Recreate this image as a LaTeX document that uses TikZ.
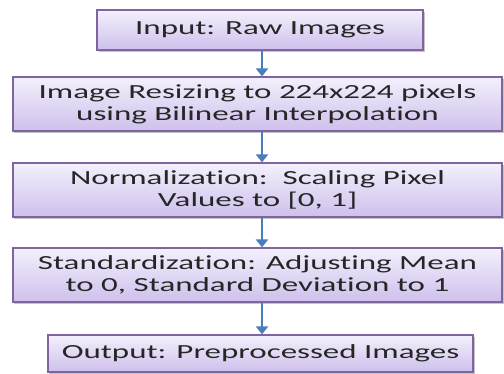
\documentclass[tikz,border=0pt]{standalone}
\usepackage{fontspec}
\setmainfont{Carlito}[FakeStretch=1.65, Ligatures=NoCommon]
\definecolor{boxline}{RGB}{128,100,160}
\definecolor{boxtop}{RGB}{244,240,252}
\definecolor{boxbot}{RGB}{206,192,236}
\definecolor{flow}{RGB}{74,126,187}
\usetikzlibrary{arrows.meta,shadows}

\begin{document}
\begin{tikzpicture}[
    x=1bp, y=-1bp,
    stepbox/.style={draw=boxline, line width=1.2bp, top color=boxtop, bottom color=boxbot,
        drop shadow={shadow xshift=1.5bp, shadow yshift=-2bp, fill=black!45, opacity=0.5},
        align=center, inner sep=0pt, font=\fontsize{20bp}{21.7bp}\selectfont, text=black!85},
    flowarrow/.style={draw=flow, line width=2.4bp, -{Triangle[length=8bp,width=12bp]}},
]
\useasboundingbox (0,0) rectangle (504,373);
\node[stepbox, minimum width=326bp, minimum height=40bp] (input) at (260,30) {Input: Raw Images};
\node[stepbox, minimum width=489bp, minimum height=54bp] (resize) at (257.5,104)
    {Image Resizing to 224x224 pixels\\using Bilinear Interpolation};
\node[stepbox, minimum width=489bp, minimum height=54bp] (norm) at (257.5,190)
    {Normalization:\ \ Scaling Pixel\\Values to [0, 1]};
\node[stepbox, minimum width=489bp, minimum height=54bp] (stand) at (257.5,275)
    {Standardization: Adjusting Mean\\to 0, Standard Deviation to 1};
\node[stepbox, minimum width=425bp, minimum height=37bp] (output) at (260.5,353.5)
    {Output: Preprocessed Images};
\draw[flowarrow] (input.south -| 262,0)  -- (resize.north -| 262,0);
\draw[flowarrow] (resize.south -| 262,0) -- (norm.north -| 262,0);
\draw[flowarrow] (norm.south -| 262,0)   -- (stand.north -| 262,0);
\draw[flowarrow] (stand.south -| 262,0)  -- (output.north -| 262,0);
\end{tikzpicture}
\end{document}
